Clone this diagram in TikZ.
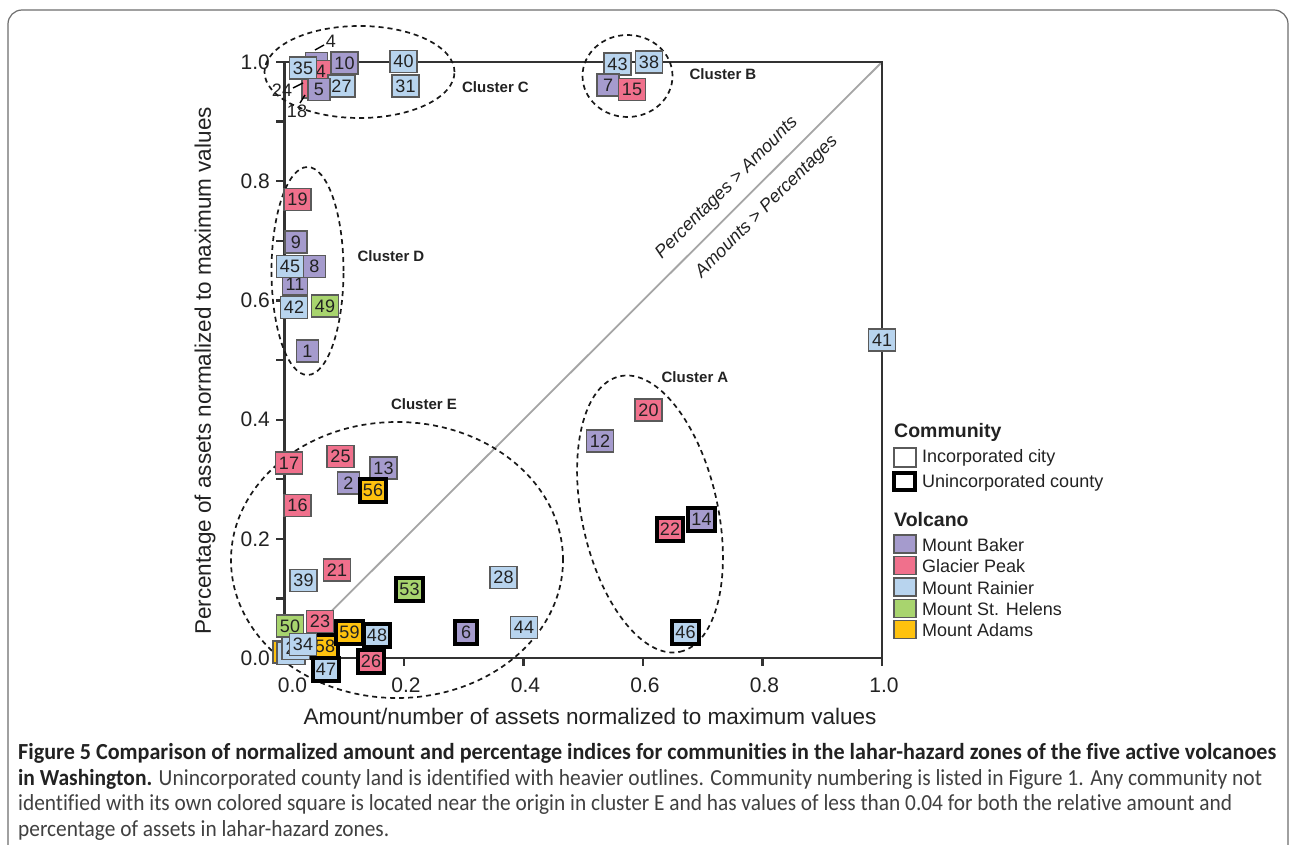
\documentclass[tikz,border=0pt]{standalone}
\usepackage{fontspec}
\setmainfont{Liberation Sans}
\newfontfamily\capfont[Ligatures=NoCommon]{Carlito}
\usepackage{graphicx}
\definecolor{cBaker}{RGB}{165,155,205}
\definecolor{cGlacier}{RGB}{240,112,140}
\definecolor{cRainier}{RGB}{184,212,238}
\definecolor{cHelens}{RGB}{168,212,110}
\definecolor{cAdams}{RGB}{255,194,14}
\definecolor{txt}{RGB}{34,34,34}
\definecolor{axisc}{RGB}{50,50,50}
\definecolor{boxgray}{RGB}{90,90,90}
\definecolor{diagc}{RGB}{165,165,165}
\definecolor{capgray}{RGB}{64,64,64}
\definecolor{framegray}{RGB}{110,110,110}
\tikzset{
  pbox/.style={draw=boxgray, line width=1.1pt, minimum width=22pt, minimum height=22pt,
    inner xsep=3.5pt, inner ysep=1pt, font=\fontsize{18}{18}\selectfont, text=txt},
  ubox/.style={draw=black, line width=4pt, minimum width=22pt, minimum height=23pt,
    inner xsep=3pt, inner ysep=1pt, font=\fontsize{18}{18}\selectfont, text=txt},
  baker/.style={fill=cBaker}, glacier/.style={fill=cGlacier}, rainier/.style={fill=cRainier},
  helens/.style={fill=cHelens}, adams/.style={fill=cAdams},
  clus/.style={draw=black!90, line width=1.7pt, dash pattern=on 5pt off 4pt},
  clab/.style={font=\fontsize{15}{15}\selectfont\bfseries, text=txt, inner sep=0pt},
  olab/.style={font=\fontsize{18}{18}\selectfont, text=txt, inner sep=0pt},
  lead/.style={draw=black, line width=1.4pt},
  tlab/.style={font=\fontsize{21}{21}\selectfont, text=txt, inner sep=0pt},
  ax/.style={draw=axisc, line width=2.2pt},
  legt/.style={font=\fontsize{18}{18}\selectfont, text=txt, anchor=west, inner sep=0pt},
  legh/.style={font=\fontsize{19.5}{19.5}\selectfont\bfseries, text=txt, anchor=west, inner sep=0pt},
  lbox/.style={draw=boxgray, line width=1.1pt, minimum width=22pt, minimum height=18pt, inner sep=0pt},
  capl/.style={anchor=base west, inner sep=0pt},
}
\newsavebox\capboxA
\newsavebox\capboxB
\newsavebox\capboxC
\newsavebox\capboxD
\newcommand\capsz{\capfont\fontsize{23}{23}\selectfont}
\begin{document}
\sbox\capboxA{\capsz\bfseries\color{txt}Figure 5 Comparison of normalized amount and percentage indices for communities in the lahar-hazard zones of the five active volcanoes}
\sbox\capboxB{\capsz\color{capgray}{\bfseries\color{txt}in Washington.} Unincorporated county land is identified with heavier outlines. Community numbering is listed in Figure 1. Any community not}
\sbox\capboxC{\capsz\color{capgray}identified with its own colored square is located near the origin in cluster E and has values of less than 0.04 for both the relative amount and}
\sbox\capboxD{\capsz\color{capgray}percentage of assets in lahar-hazard zones.}
\begin{tikzpicture}[x=1pt,y=-1pt]
\useasboundingbox (0,0) rectangle (1290,845);
\fill[white] (0,0) rectangle (1290,845);
% outer frame
\draw[framegray, line width=1.2pt, rounded corners=14pt] (8,870) -- (8,10) -- (1288,10) -- (1288,870);

% diagonal
\coordinate (o) at (284.5,658);
\coordinate (tr) at (882,62);
\draw[diagc, line width=1.8pt] (o) -- (tr);

% axes and frame
\coordinate (tl) at (284.5,62);
\coordinate (br) at (882,658);
\draw[ax] (tl) -- (o) -- (br) -- (tr) -- (tl);
\foreach \v in {0,1,...,10} {
  \draw[ax] (284.5,{658-\v*59.6}) -- (276,{658-\v*59.6});
}
\foreach \v/\l in {0/0.0,2/0.2,4/0.4,6/0.6,8/0.8,10/1.0} {
  \node[tlab, anchor=east] (ylab\v) at (270,{658-\v*59.6}) {\l};
}
\foreach \v in {2,4,6,8,10} {
  \draw[ax] ({284.5+\v*59.75},658) -- ({284.5+\v*59.75},666);
}
\foreach \v/\l in {0/0.0,2/0.2,4/0.4,6/0.6,8/0.8,10/1.0} {
  \node[tlab] (xlab\v) at ({286.5+\v*59.75+(\v==0?6:0)},685) {\l};
}
\node[font=\fontsize{22.5}{22.5}\selectfont, text=txt] (xt) at (590,716) {Amount/number of assets normalized to maximum values};
\node[font=\fontsize{22.5}{22.5}\selectfont, text=txt, rotate=90] (yt) at (205,371) {Percentage of assets normalized to maximum values};

% diagonal labels
\node[font=\fontsize{18}{18}\selectfont\itshape, text=txt, rotate=45] (pa) at (727,188) {Percentages > Amounts};
\node[font=\fontsize{18}{18}\selectfont\itshape, text=txt, rotate=45] (ap) at (767,207) {Amounts > Percentages};

% cluster ellipses
\draw[clus] (359.5,72) ellipse [x radius=95pt, y radius=46pt];
\draw[clus] (627.5,76) ellipse [x radius=45pt, y radius=41pt];
\draw[clus] (307.5,271) ellipse [x radius=36pt, y radius=104pt];
\draw[clus] (397,560) ellipse [x radius=166pt, y radius=138pt];
\draw[clus, rotate around={-77.7:(650,514)}] (650,514) ellipse [x radius=141pt, y radius=68pt];

\node[clab] (cA) at (695,377) {Cluster A};
\node[clab] (cB) at (723,74) {Cluster B};
\node[clab] (cC) at (495.5,87) {Cluster C};
\node[clab] (cD) at (391,256) {Cluster D};
\node[clab] (cE) at (424,404) {Cluster E};

% cluster C
\node[pbox,baker] (hC1) at (316.5,63.5) {};
\node[pbox,glacier] (hC2) at (313,87) {};
\node[pbox,glacier] (n4) at (321,71.5) {4};
\node[pbox,rainier] (n35) at (303,68) {35};
\node[pbox,rainier] (n27) at (341.5,86) {27};
\node[pbox,baker] (n5) at (319,89.5) {5};
\node[pbox,baker] (n10) at (344.5,63) {10};
\node[pbox,rainier] (n40) at (403.5,61.5) {40};
\node[pbox,rainier] (n31) at (405.5,86) {31};
\node[olab] (l4) at (331,41.5) {4};
\node[olab] (l24) at (282,90) {24};
\node[olab] (l18) at (297,111.5) {18};
\coordinate (p4a) at (315,50); \coordinate (p4b) at (324,45);
\coordinate (p24a) at (293,88); \coordinate (p24b) at (303,83);
\coordinate (p18a) at (300,103); \coordinate (p18b) at (305,95);
\draw[lead] (p4a) -- (p4b);
\draw[lead] (p24a) -- (p24b);
\draw[lead] (p18a) -- (p18b);

% cluster B
\node[pbox,rainier] (n43) at (617.5,64) {43};
\node[pbox,rainier] (n38) at (649,62) {38};
\node[pbox,baker] (n7) at (608,85) {7};
\node[pbox,glacier] (n15) at (632,89.5) {15};

% cluster D
\node[pbox,glacier] (n19) at (297.5,199.5) {19};
\node[pbox,baker] (n9) at (296,242) {9};
\node[pbox,baker] (n11) at (295,284) {11};
\node[pbox,rainier] (n45) at (290,266.5) {45};
\node[pbox,baker] (n8) at (314.5,266.5) {8};
\node[pbox,rainier] (n42) at (294,307.5) {42};
\node[pbox,helens] (n49) at (325,306) {49};
\node[pbox,baker] (n1) at (307.5,351) {1};

% cluster E
\node[pbox,glacier] (n17) at (289,463) {17};
\node[pbox,glacier] (n16) at (297.5,505.5) {16};
\node[pbox,glacier] (n25) at (340.5,456.5) {25};
\node[pbox,baker] (n13) at (383.5,468) {13};
\node[pbox,baker] (n2) at (348.5,483) {2};
\node[ubox,adams] (n56) at (373,490) {56};
\node[pbox,rainier] (n39) at (303.5,580.5) {39};
\node[pbox,glacier] (n21) at (337,570) {21};
\node[ubox,helens] (n53) at (409.5,589.5) {53};
\node[pbox,rainier] (n28) at (503.5,577.5) {28};
\node[pbox,rainier] (n44) at (524,627.5) {44};
\node[ubox,baker] (n6) at (466,632.5) {6};
\node[pbox,adams, minimum width=28pt] (hE1) at (287,652) {};
\node[pbox,rainier, minimum width=28pt] (hE2) at (291,653.5) {};
\node[pbox,rainier, text width=21pt, align=left] (hE3) at (296,648.5) {2};
\node[pbox,helens] (n50) at (290,626) {50};
\node[pbox,glacier] (n23) at (320,621.5) {23};
\node[ubox,adams] (n58) at (325,646) {58};
\node[pbox,rainier] (n34) at (303,644.5) {34};
\node[ubox,adams] (n59) at (349.5,632) {59};
\node[ubox,rainier] (n48) at (377,635) {48};
\node[ubox,glacier] (n26) at (371,661.5) {26};
\node[ubox,rainier] (n47) at (326,669.5) {47};

% cluster A
\node[pbox,glacier] (n20) at (648.5,410) {20};
\node[pbox,baker] (n12) at (600,441) {12};
\node[ubox,glacier] (n22) at (670,529.5) {22};
\node[ubox,baker] (n14) at (701.5,519) {14};
\node[ubox,rainier] (n46) at (685.5,632) {46};

% outlier
\node[pbox,rainier] (n41) at (882,340) {41};

% legend
\node[legh] (lgc) at (894,432) {Community};
\node[lbox, fill=white, minimum height=19pt] (lb1) at (905,457.5) {};
\node[legt] (lt1) at (922,458) {Incorporated city};
\node[lbox, draw=black, line width=4pt, minimum width=21pt, minimum height=17pt, fill=white] (lb2) at (904.5,481.5) {};
\node[legt] (lt2) at (922,483) {Unincorporated county};
\node[legh] (lgv) at (894,520) {Volcano};
\node[lbox, fill=cBaker] (lb3) at (905,544) {};
\node[legt] (lt3) at (922,545) {Mount Baker};
\node[lbox, fill=cGlacier] (lb4) at (905,565.5) {};
\node[legt] (lt4) at (922,566) {Glacier Peak};
\node[lbox, fill=cRainier] (lb5) at (905,587) {};
\node[legt] (lt5) at (922,588) {Mount Rainier};
\node[lbox, fill=cHelens] (lb6) at (905,608.5) {};
\node[legt] (lt6) at (922,609) {Mount St. Helens};
\node[lbox, fill=cAdams] (lb7) at (905,629.5) {};
\node[legt] (lt7) at (922,630.5) {Mount Adams};

% caption
\pgfmathsetmacro\capscD{1214/\wd\capboxC}
\node[capl] (cap1) at (18,759) {\resizebox{1258pt}{\height}{\usebox\capboxA}};
\node[capl] (cap2) at (18,785) {\resizebox{1244pt}{\height}{\usebox\capboxB}};
\node[capl] (cap3) at (18,810) {\resizebox{1214pt}{\height}{\usebox\capboxC}};
\node[capl] (cap4) at (18,836) {\scalebox{\capscD}[1]{\usebox\capboxD}};
\end{tikzpicture}
\end{document}
